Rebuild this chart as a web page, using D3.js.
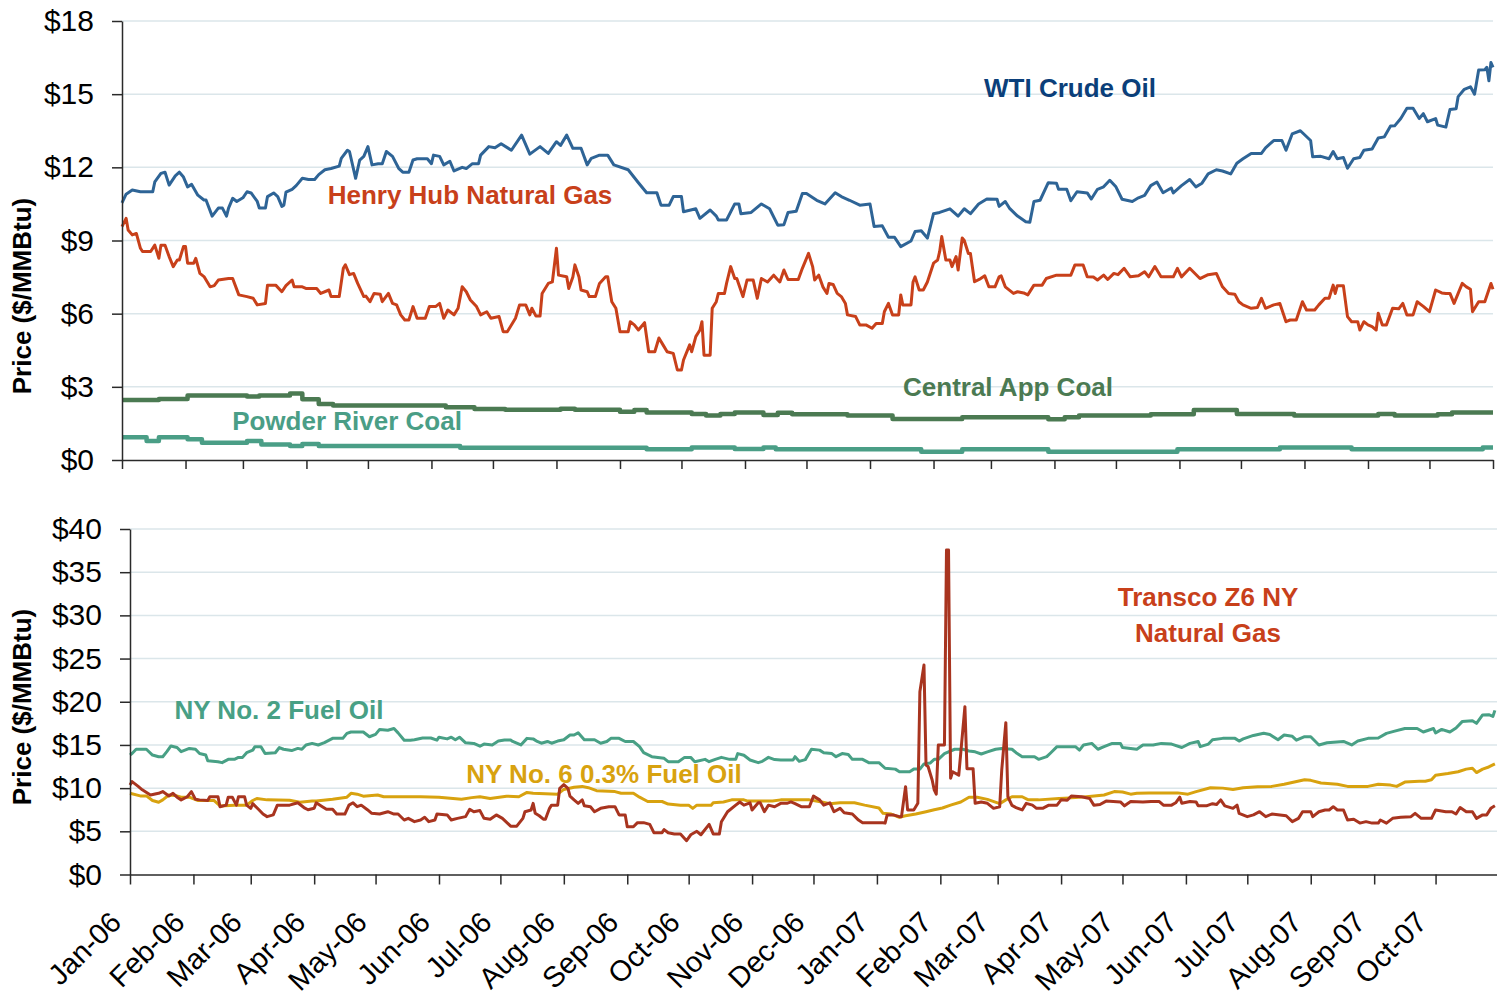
<!DOCTYPE html>
<html>
<head>
<meta charset="utf-8">
<script src="https://d3js.org/d3.v7.min.js"></script>
<style>
body { margin: 0; background: #fff; }
svg { font-family: 'Liberation Sans', Arial, sans-serif; }
.axis path, .axis line { stroke: #2a2a2a; stroke-width: 1.5; }
.axis text { font-size: 30px; fill: #000; }
.grid line { stroke: #dbe6ea; stroke-width: 1.5; }
.xlabel { font-size: 29px; fill: #000; }
.series { fill: none; stroke-linejoin: round; }
.label { font-weight: bold; font-size: 26px; }
.ytitle { font-weight: bold; font-size: 26px; fill: #000; }
</style>
</head>
<body>
<svg width="1497" height="1000"></svg>
<script>
var svg = d3.select('svg');
var parseDate = d3.timeParse('%Y-%m-%d');

// month labels on the bottom axis
var monthLabels = ['Jan-06','Feb-06','Mar-06','Apr-06','May-06','Jun-06','Jul-06','Aug-06','Sep-06','Oct-06','Nov-06','Dec-06',
  'Jan-07','Feb-07','Mar-07','Apr-07','May-07','Jun-07','Jul-07','Aug-07','Sep-07','Oct-07'];
var topTicks = [0, 3, 6, 9, 12, 15, 18];
var bottomTicks = [0, 5, 10, 15, 20, 25, 30, 35, 40];

// ---- top panel series ($/MMBtu)
var wti = [['2006-01-01',10.54],['2006-01-03',10.9],['2006-01-06',11.07],['2006-01-10',11.0],['2006-01-16',11.0],['2006-01-17',11.4],
['2006-01-20',11.75],['2006-01-22',11.8],['2006-01-24',11.27],['2006-01-27',11.65],['2006-01-29',11.8],['2006-01-31',11.6],
['2006-02-02',11.2],['2006-02-04',11.3],['2006-02-07',10.86],['2006-02-10',10.66],['2006-02-11',10.66],['2006-02-14',10.0],
['2006-02-17',10.33],['2006-02-19',10.33],['2006-02-21',10.0],['2006-02-22',10.33],['2006-02-24',10.73],['2006-02-26',10.6],
['2006-03-01',10.75],['2006-03-03',11.0],['2006-03-05',10.95],['2006-03-08',10.6],['2006-03-09',10.33],['2006-03-12',10.33],
['2006-03-13',10.8],['2006-03-16',10.95],['2006-03-18',10.8],['2006-03-20',10.4],['2006-03-21',10.45],['2006-03-22',10.98],
['2006-03-25',11.1],['2006-03-27',11.25],['2006-03-30',11.55],['2006-04-02',11.5],['2006-04-05',11.5],['2006-04-07',11.7],
['2006-04-10',11.9],['2006-04-13',11.95],['2006-04-17',12.05],['2006-04-18',12.37],['2006-04-21',12.7],['2006-04-22',12.65],
['2006-04-25',11.55],['2006-04-27',12.3],['2006-04-29',12.45],['2006-05-01',12.85],['2006-05-03',12.1],['2006-05-06',12.15],
['2006-05-08',12.15],['2006-05-10',12.65],['2006-05-13',12.45],['2006-05-16',11.96],['2006-05-18',11.8],['2006-05-21',11.8],
['2006-05-23',12.3],['2006-05-25',12.35],['2006-05-30',12.35],['2006-06-01',12.15],['2006-06-02',12.5],['2006-06-05',12.45],
['2006-06-07',12.1],['2006-06-10',12.25],['2006-06-12',11.85],['2006-06-16',12.0],['2006-06-18',11.95],['2006-06-21',12.15],
['2006-06-24',12.15],['2006-06-25',12.5],['2006-06-29',12.85],['2006-07-02',12.8],['2006-07-05',12.97],['2006-07-10',12.7],
['2006-07-15',13.32],['2006-07-19',12.54],['2006-07-24',12.85],['2006-07-28',12.57],['2006-08-01',13.05],['2006-08-03',12.9],
['2006-08-06',13.32],['2006-08-09',12.78],['2006-08-13',12.78],['2006-08-16',12.1],['2006-08-18',12.37],['2006-08-22',12.5],
['2006-08-26',12.5],['2006-08-29',12.1],['2006-09-05',11.9],['2006-09-10',11.37],['2006-09-14',10.96],['2006-09-19',10.96],
['2006-09-21',10.45],['2006-09-25',10.45],['2006-09-27',10.8],['2006-10-01',10.8],['2006-10-02',10.18],['2006-10-08',10.3],
['2006-10-10',9.91],['2006-10-15',10.25],['2006-10-18',10.0],['2006-10-19',9.84],['2006-10-23',9.84],['2006-10-27',10.5],
['2006-10-29',10.5],['2006-10-30',10.1],['2006-11-04',10.15],['2006-11-09',10.5],['2006-11-13',10.3],['2006-11-17',9.63],
['2006-11-20',9.65],['2006-11-22',10.15],['2006-11-26',10.2],['2006-11-29',10.93],['2006-12-01',10.93],['2006-12-06',10.65],
['2006-12-10',10.5],['2006-12-15',10.96],['2006-12-18',10.8],['2006-12-22',10.65],['2006-12-27',10.45],['2007-01-01',10.5],
['2007-01-03',9.57],['2007-01-07',9.6],['2007-01-10',9.13],['2007-01-13',9.13],['2007-01-16',8.75],['2007-01-21',8.98],
['2007-01-23',9.37],['2007-01-26',9.4],['2007-01-29',9.1],['2007-02-01',10.1],['2007-02-04',10.15],['2007-02-09',10.3],
['2007-02-13',10.0],['2007-02-16',10.3],['2007-02-19',10.1],['2007-02-23',10.5],['2007-02-27',10.7],['2007-03-04',10.69],
['2007-03-05',10.4],['2007-03-08',10.6],['2007-03-10',10.33],['2007-03-14',10.0],['2007-03-18',9.77],['2007-03-20',9.75],
['2007-03-22',10.6],['2007-03-25',10.65],['2007-03-29',11.37],['2007-04-02',11.35],['2007-04-03',11.1],['2007-04-07',11.1],
['2007-04-09',10.63],['2007-04-12',11.0],['2007-04-17',10.95],['2007-04-19',10.7],['2007-04-22',11.1],['2007-04-25',11.2],
['2007-04-28',11.47],['2007-05-01',11.2],['2007-05-04',10.69],['2007-05-09',10.6],['2007-05-12',10.75],['2007-05-15',10.85],
['2007-05-18',11.25],['2007-05-21',11.4],['2007-05-24',10.96],['2007-05-28',11.15],['2007-05-29',10.95],['2007-06-02',11.25],
['2007-06-06',11.5],['2007-06-09',11.2],['2007-06-12',11.35],['2007-06-15',11.73],['2007-06-19',11.9],['2007-06-22',11.85],
['2007-06-26',11.73],['2007-06-29',12.17],['2007-07-02',12.35],['2007-07-06',12.57],['2007-07-11',12.57],['2007-07-13',12.8],
['2007-07-17',13.1],['2007-07-21',13.1],['2007-07-23',12.7],['2007-07-26',13.37],['2007-07-30',13.5],['2007-08-04',13.1],
['2007-08-05',12.43],['2007-08-09',12.45],['2007-08-13',12.35],['2007-08-15',12.65],['2007-08-17',12.35],['2007-08-20',12.4],
['2007-08-22',11.96],['2007-08-25',12.35],['2007-08-28',12.4],['2007-08-30',12.7],['2007-09-03',12.75],['2007-09-06',13.2],
['2007-09-09',13.25],['2007-09-12',13.69],['2007-09-14',13.7],['2007-09-17',14.0],['2007-09-20',14.42],['2007-09-23',14.42],
['2007-09-26',14.0],['2007-09-28',14.2],['2007-09-30',13.87],['2007-10-04',14.0],['2007-10-05',13.73],['2007-10-09',13.65],
['2007-10-11',14.37],['2007-10-14',14.4],['2007-10-15',14.9],['2007-10-18',15.2],['2007-10-21',15.3],['2007-10-23',15.0],
['2007-10-25',15.99],['2007-10-28',16.0],['2007-10-29',16.1],['2007-10-30',15.55],['2007-10-31',16.3],['2007-11-01',16.1]];

var henryHub = [['2006-01-01',9.57],['2006-01-03',9.91],['2006-01-04',9.43],['2006-01-06',9.23],['2006-01-08',9.29],['2006-01-10',8.68],
['2006-01-11',8.55],['2006-01-15',8.55],['2006-01-17',8.81],['2006-01-19',8.27],['2006-01-20',8.81],['2006-01-22',8.81],
['2006-01-24',8.34],['2006-01-26',7.93],['2006-01-28',8.2],['2006-01-29',8.2],['2006-01-31',8.75],['2006-02-01',8.75],
['2006-02-02',8.07],['2006-02-05',8.07],['2006-02-06',8.27],['2006-02-08',7.65],['2006-02-10',7.52],['2006-02-13',7.1],
['2006-02-15',7.15],['2006-02-17',7.38],['2006-02-22',7.44],['2006-02-24',7.44],['2006-02-27',6.77],['2006-03-03',6.7],
['2006-03-06',6.63],['2006-03-08',6.36],['2006-03-12',6.42],['2006-03-13',7.17],['2006-03-17',7.17],['2006-03-20',6.9],
['2006-03-22',7.15],['2006-03-25',7.38],['2006-03-26',7.1],['2006-03-30',7.1],['2006-04-01',7.03],['2006-04-06',7.03],
['2006-04-08',6.83],['2006-04-12',6.97],['2006-04-13',6.7],['2006-04-17',6.7],['2006-04-19',7.86],['2006-04-20',8.0],
['2006-04-22',7.6],['2006-04-24',7.65],['2006-04-26',7.24],['2006-04-29',6.7],['2006-04-30',6.72],['2006-05-02',6.49],
['2006-05-04',6.83],['2006-05-07',6.8],['2006-05-08',6.49],['2006-05-11',6.83],['2006-05-13',6.42],['2006-05-15',6.36],
['2006-05-17',5.95],['2006-05-19',5.74],['2006-05-21',5.74],['2006-05-23',6.29],['2006-05-25',5.81],['2006-05-29',5.81],
['2006-05-31',6.29],['2006-06-03',6.29],['2006-06-05',6.42],['2006-06-07',5.81],['2006-06-09',6.15],['2006-06-12',5.95],
['2006-06-14',6.22],['2006-06-16',7.1],['2006-06-18',6.9],['2006-06-20',6.56],['2006-06-23',6.29],['2006-06-25',5.95],
['2006-06-28',6.08],['2006-06-30',5.81],['2006-07-04',5.88],['2006-07-06',5.26],['2006-07-08',5.26],['2006-07-12',5.81],
['2006-07-14',6.36],['2006-07-17',6.36],['2006-07-19',5.95],['2006-07-20',6.22],['2006-07-22',5.9],['2006-07-24',5.9],
['2006-07-25',6.83],['2006-07-28',7.24],['2006-07-30',7.3],['2006-08-01',8.68],['2006-08-02',7.58],['2006-08-06',7.51],
['2006-08-07',7.03],['2006-08-09',7.5],['2006-08-10',8.0],['2006-08-12',7.5],['2006-08-13',6.97],['2006-08-16',6.9],
['2006-08-17',6.7],['2006-08-20',6.7],['2006-08-22',7.24],['2006-08-25',7.51],['2006-08-26',7.51],['2006-08-28',6.49],
['2006-08-30',6.22],['2006-09-01',5.26],['2006-09-05',5.26],['2006-09-06',5.67],['2006-09-08',5.54],['2006-09-10',5.33],
['2006-09-13',5.63],['2006-09-15',4.44],['2006-09-18',4.44],['2006-09-20',5.0],['2006-09-22',4.72],['2006-09-24',4.44],
['2006-09-27',4.37],['2006-09-29',3.69],['2006-10-01',3.69],['2006-10-02',4.1],['2006-10-05',4.72],['2006-10-06',4.44],
['2006-10-08',5.06],['2006-10-10',5.33],['2006-10-11',5.67],['2006-10-12',4.3],['2006-10-15',4.3],['2006-10-16',6.22],
['2006-10-18',6.49],['2006-10-19',6.83],['2006-10-22',6.83],['2006-10-23',7.24],['2006-10-25',7.93],['2006-10-27',7.44],
['2006-10-28',7.44],['2006-10-31',6.7],['2006-11-02',7.38],['2006-11-05',7.38],['2006-11-07',6.63],['2006-11-09',7.44],
['2006-11-12',7.3],['2006-11-15',7.58],['2006-11-18',7.3],['2006-11-20',7.79],['2006-11-22',7.4],['2006-11-27',7.4],
['2006-11-29',7.86],['2006-12-02',8.47],['2006-12-04',7.93],['2006-12-05',7.38],['2006-12-07',7.58],['2006-12-09',7.1],
['2006-12-11',6.83],['2006-12-12',7.24],['2006-12-14',7.2],['2006-12-16',6.83],['2006-12-18',6.7],['2006-12-20',6.42],
['2006-12-21',5.95],['2006-12-25',5.88],['2006-12-27',5.54],['2006-12-30',5.54],['2007-01-02',5.4],['2007-01-04',5.6],
['2007-01-07',5.6],['2007-01-08',6.08],['2007-01-10',6.42],['2007-01-12',5.95],['2007-01-15',5.95],['2007-01-16',6.77],
['2007-01-17',6.36],['2007-01-21',6.36],['2007-01-22',7.3],['2007-01-23',7.51],['2007-01-25',6.97],['2007-01-27',6.97],
['2007-01-29',7.3],['2007-02-01',8.07],['2007-02-03',8.2],['2007-02-04',8.55],['2007-02-05',9.16],['2007-02-07',8.2],
['2007-02-09',8.2],['2007-02-10',7.93],['2007-02-12',8.34],['2007-02-13',7.79],['2007-02-15',9.1],['2007-02-16',9.0],
['2007-02-18',8.47],['2007-02-19',8.47],['2007-02-21',7.31],['2007-02-24',7.44],['2007-02-26',7.55],['2007-02-28',7.1],
['2007-03-03',7.1],['2007-03-05',7.51],['2007-03-06',7.55],['2007-03-08',7.1],['2007-03-12',6.83],['2007-03-14',6.9],
['2007-03-17',6.85],['2007-03-19',6.77],['2007-03-22',7.17],['2007-03-26',7.17],['2007-03-28',7.44],['2007-04-02',7.58],
['2007-04-05',7.58],['2007-04-09',7.58],['2007-04-11',8.0],['2007-04-15',8.0],['2007-04-17',7.51],['2007-04-20',7.5],
['2007-04-22',7.38],['2007-04-25',7.58],['2007-04-27',7.4],['2007-04-30',7.65],['2007-05-02',7.6],['2007-05-05',7.86],
['2007-05-08',7.51],['2007-05-12',7.55],['2007-05-15',7.72],['2007-05-17',7.51],['2007-05-20',7.93],['2007-05-23',7.51],
['2007-05-29',7.51],['2007-05-31',7.86],['2007-06-02',7.51],['2007-06-06',7.86],['2007-06-11',7.44],['2007-06-15',7.6],
['2007-06-19',7.65],['2007-06-22',7.1],['2007-06-25',6.83],['2007-06-28',6.8],['2007-06-30',6.49],['2007-07-02',6.36],
['2007-07-06',6.22],['2007-07-09',6.25],['2007-07-11',6.63],['2007-07-13',6.22],['2007-07-17',6.36],['2007-07-20',6.42],
['2007-07-23',5.67],['2007-07-25',5.74],['2007-07-28',5.74],['2007-07-31',6.49],['2007-08-02',6.15],['2007-08-06',6.15],
['2007-08-08',6.36],['2007-08-11',6.63],['2007-08-13',6.63],['2007-08-15',7.17],['2007-08-16',6.83],['2007-08-17',7.14],
['2007-08-20',7.14],['2007-08-22',5.88],['2007-08-24',5.67],['2007-08-27',5.67],['2007-08-28',5.33],['2007-08-30',5.67],
['2007-09-01',5.54],['2007-09-03',5.47],['2007-09-05',5.33],['2007-09-06',6.02],['2007-09-08',5.54],['2007-09-10',5.54],
['2007-09-13',6.22],['2007-09-16',6.2],['2007-09-18',6.42],['2007-09-20',5.95],['2007-09-23',5.95],['2007-09-25',6.49],
['2007-09-28',6.3],['2007-10-01',6.08],['2007-10-04',6.97],['2007-10-07',6.85],['2007-10-09',6.83],['2007-10-11',6.83],
['2007-10-13',6.42],['2007-10-17',7.24],['2007-10-19',7.1],['2007-10-21',7.0],['2007-10-22',6.08],['2007-10-25',6.49],
['2007-10-28',6.49],['2007-10-31',7.24],['2007-11-01',7.0]];

// coal prices move in weekly steps
var centralApp = [['2006-01-01',2.46],['2006-01-19',2.5],['2006-02-02',2.64],['2006-03-03',2.6],['2006-03-09',2.64],['2006-03-24',2.73],
['2006-03-30',2.49],['2006-04-07',2.3],['2006-04-14',2.23],['2006-06-08',2.16],['2006-06-22',2.09],['2006-07-07',2.06],
['2006-08-03',2.1],['2006-08-10',2.06],['2006-09-01',1.98],['2006-09-08',2.05],['2006-09-14',1.95],['2006-10-06',1.89],
['2006-10-13',1.82],['2006-10-20',1.89],['2006-10-27',1.95],['2006-11-10',1.85],['2006-11-17',1.94],['2006-11-24',1.88],
['2006-12-21',1.82],['2007-01-12',1.68],['2007-02-15',1.75],['2007-03-29',1.67],['2007-04-06',1.75],['2007-04-13',1.82],
['2007-05-18',1.88],['2007-06-08',2.05],['2007-06-29',1.89],['2007-07-27',1.82],['2007-09-06',1.89],['2007-09-14',1.82],
['2007-10-05',1.88],['2007-10-12',1.95],['2007-11-01',1.95]];

var powderRiver = [['2006-01-01',0.93],['2006-01-13',0.78],['2006-01-19',0.93],['2006-02-02',0.85],['2006-02-09',0.71],['2006-03-03',0.78],
['2006-03-10',0.64],['2006-03-24',0.57],['2006-03-30',0.66],['2006-04-07',0.57],['2006-06-15',0.5],['2006-09-14',0.44],
['2006-10-06',0.51],['2006-10-27',0.45],['2006-11-10',0.51],['2006-11-16',0.44],['2007-01-26',0.34],['2007-02-15',0.44],
['2007-03-29',0.34],['2007-05-31',0.44],['2007-07-20',0.51],['2007-08-24',0.44],['2007-10-27',0.51],['2007-11-01',0.51]];

// ---- bottom panel series ($/MMBtu)
var nyNo2 = [['2006-01-01',13.83],['2006-01-02',14.0],['2006-01-04',14.5],['2006-01-09',14.5],['2006-01-12',13.83],['2006-01-15',13.64],
['2006-01-17',13.64],['2006-01-19',14.22],['2006-01-21',14.88],['2006-01-24',14.7],['2006-01-26',14.22],['2006-01-30',14.6],
['2006-02-02',14.5],['2006-02-04',14.0],['2006-02-07',13.83],['2006-02-08',13.18],['2006-02-13',13.06],['2006-02-15',12.95],
['2006-02-18',13.33],['2006-02-21',13.33],['2006-02-23',13.56],['2006-02-25',13.56],['2006-02-27',14.1],['2006-03-02',14.4],
['2006-03-03',14.8],['2006-03-06',14.8],['2006-03-08',14.0],['2006-03-13',14.1],['2006-03-15',14.7],['2006-03-17',14.5],
['2006-03-21',14.35],['2006-03-24',14.6],['2006-03-26',14.5],['2006-03-28',14.99],['2006-03-31',15.18],['2006-04-03',14.99],
['2006-04-06',15.26],['2006-04-10',15.76],['2006-04-15',15.76],['2006-04-17',16.34],['2006-04-19',16.5],['2006-04-25',16.5],
['2006-04-28',15.95],['2006-05-01',16.22],['2006-05-03',16.8],['2006-05-07',16.7],['2006-05-10',16.9],['2006-05-12',16.4],
['2006-05-15',15.55],['2006-05-18',15.55],['2006-05-20',15.6],['2006-05-24',15.8],['2006-05-28',15.8],['2006-05-31',15.55],
['2006-06-01',15.9],['2006-06-05',15.7],['2006-06-07',15.9],['2006-06-09',15.6],['2006-06-11',15.9],['2006-06-14',15.25],
['2006-06-18',15.18],['2006-06-21',14.85],['2006-06-23',15.1],['2006-06-27',15.0],['2006-06-30',15.45],['2006-07-03',15.56],
['2006-07-06',15.56],['2006-07-07',15.4],['2006-07-11',15.0],['2006-07-14',15.76],['2006-07-17',15.7],['2006-07-19',15.4],
['2006-07-21',15.2],['2006-07-24',15.4],['2006-07-26',15.2],['2006-07-29',15.45],['2006-08-01',15.6],['2006-08-04',16.15],
['2006-08-06',16.15],['2006-08-08',16.4],['2006-08-11',15.6],['2006-08-16',15.6],['2006-08-19',15.2],['2006-08-22',15.4],
['2006-08-24',15.76],['2006-08-28',15.76],['2006-08-31',15.4],['2006-09-04',15.4],['2006-09-07',14.8],['2006-09-09',14.1],
['2006-09-13',13.64],['2006-09-19',13.45],['2006-09-21',13.06],['2006-09-26',13.06],['2006-09-29',13.56],['2006-10-02',13.56],
['2006-10-04',13.06],['2006-10-09',13.33],['2006-10-11',13.06],['2006-10-14',13.33],['2006-10-17',13.56],['2006-10-21',13.33],
['2006-10-24',13.33],['2006-10-25',14.0],['2006-10-28',13.8],['2006-10-31',13.25],['2006-11-04',12.95],['2006-11-06',13.1],
['2006-11-09',13.56],['2006-11-12',13.3],['2006-11-15',13.25],['2006-11-21',13.25],['2006-11-22',13.64],['2006-11-24',13.1],
['2006-11-27',13.3],['2006-11-30',14.5],['2006-12-04',14.4],['2006-12-06',14.1],['2006-12-10',14.0],['2006-12-12',13.64],
['2006-12-15',14.0],['2006-12-18',13.9],['2006-12-20',13.33],['2006-12-25',13.33],['2006-12-28',12.95],['2007-01-02',12.95],
['2007-01-05',12.3],['2007-01-10',12.2],['2007-01-12',11.9],['2007-01-17',11.9],['2007-01-19',12.2],['2007-01-22',12.2],
['2007-01-24',12.8],['2007-01-27',12.9],['2007-01-29',13.33],['2007-01-31',13.33],['2007-02-03',14.0],['2007-02-08',14.5],
['2007-02-12',14.5],['2007-02-15',14.3],['2007-02-18',14.2],['2007-02-21',13.95],['2007-02-24',14.2],['2007-02-28',14.5],
['2007-03-03',14.6],['2007-03-08',14.5],['2007-03-10',14.1],['2007-03-13',13.64],['2007-03-19',13.64],['2007-03-21',13.33],
['2007-03-25',13.64],['2007-03-27',14.1],['2007-03-30',14.8],['2007-04-08',14.8],['2007-04-10',14.4],['2007-04-12',15.0],
['2007-04-16',15.18],['2007-04-19',14.5],['2007-04-22',14.8],['2007-04-26',15.18],['2007-04-30',15.18],['2007-05-01',14.7],
['2007-05-05',14.6],['2007-05-08',14.5],['2007-05-11',15.0],['2007-05-16',15.0],['2007-05-20',15.18],['2007-05-25',15.1],
['2007-05-30',14.7],['2007-06-03',15.18],['2007-06-07',15.4],['2007-06-08',14.8],['2007-06-12',15.1],['2007-06-14',15.6],
['2007-06-19',15.76],['2007-06-25',15.76],['2007-06-27',15.45],['2007-06-29',15.7],['2007-07-04',16.1],['2007-07-09',16.35],
['2007-07-12',16.2],['2007-07-16',15.6],['2007-07-19',16.15],['2007-07-23',16.0],['2007-07-25',15.55],['2007-07-29',15.95],
['2007-08-01',15.95],['2007-08-05',15.0],['2007-08-09',15.25],['2007-08-17',15.4],['2007-08-21',15.0],['2007-08-24',15.45],
['2007-08-29',15.76],['2007-09-03',15.8],['2007-09-07',16.34],['2007-09-11',16.6],['2007-09-16',16.9],['2007-09-22',16.9],
['2007-09-25',16.5],['2007-09-30',16.9],['2007-10-01',16.4],['2007-10-04',16.8],['2007-10-08',16.5],['2007-10-11',16.97],
['2007-10-14',17.7],['2007-10-19',17.8],['2007-10-21',17.5],['2007-10-24',18.47],['2007-10-27',18.5],['2007-10-29',18.3],
['2007-10-30',19.0]];

var nyNo6 = [['2006-01-01',9.4],['2006-01-06',9.1],['2006-01-09',9.1],['2006-01-12',8.57],['2006-01-15',8.37],['2006-01-17',8.64],
['2006-01-20',9.2],['2006-01-23',9.15],['2006-01-26',8.95],['2006-01-30',8.95],['2006-02-03',8.57],['2006-02-11',8.57],
['2006-02-14',7.93],['2006-02-21',8.03],['2006-02-27',8.03],['2006-03-02',8.57],['2006-03-04',8.8],['2006-03-09',8.64],
['2006-03-20',8.6],['2006-03-25',8.37],['2006-03-31',8.5],['2006-04-02',8.5],['2006-04-10',8.7],['2006-04-17',8.95],
['2006-04-19',9.4],['2006-04-22',9.3],['2006-04-25',9.07],['2006-05-02',9.2],['2006-05-05',9.0],['2006-05-13',9.0],
['2006-05-23',9.0],['2006-06-01',8.95],['2006-06-12',8.7],['2006-06-17',8.9],['2006-06-21',9.0],['2006-06-26',8.8],
['2006-07-04',9.07],['2006-07-10',9.0],['2006-07-14',9.5],['2006-07-17',9.4],['2006-07-29',9.3],['2006-08-01',9.85],
['2006-08-06',10.1],['2006-08-10',10.2],['2006-08-13',10.05],['2006-08-17',9.7],['2006-08-26',9.6],['2006-08-29',9.4],
['2006-09-04',9.4],['2006-09-07',8.95],['2006-09-11',8.45],['2006-09-18',8.45],['2006-09-21',8.16],['2006-09-27',8.03],
['2006-10-01',8.03],['2006-10-03',7.66],['2006-10-05',8.03],['2006-10-12',8.03],['2006-10-13',8.3],['2006-10-18',8.4],
['2006-10-22',8.64],['2006-10-28',8.64],['2006-10-30',8.5],['2006-11-11',8.5],['2006-11-15',8.64],['2006-11-29',8.64],
['2006-12-05',8.4],['2006-12-09',8.2],['2006-12-14',8.3],['2006-12-21',8.3],['2006-12-26',8.03],['2007-01-02',7.7],
['2007-01-04',7.08],['2007-01-08',7.0],['2007-01-12',6.62],['2007-01-15',6.8],['2007-01-20',7.0],['2007-01-25',7.27],
['2007-01-29',7.5],['2007-02-02',7.7],['2007-02-06',8.03],['2007-02-11',8.4],['2007-02-15',8.95],['2007-02-19',8.95],
['2007-02-24',8.7],['2007-03-02',8.2],['2007-03-05',8.64],['2007-03-08',9.0],['2007-03-13',9.0],['2007-03-16',8.64],
['2007-03-21',8.64],['2007-03-31',8.8],['2007-04-08',8.9],['2007-04-16',9.07],['2007-04-22',9.2],['2007-04-27',9.6],
['2007-05-01',9.55],['2007-05-05',9.3],['2007-05-08',9.4],['2007-05-14',9.45],['2007-05-28',9.45],['2007-06-02',9.3],
['2007-06-06',9.6],['2007-06-13',10.05],['2007-06-19',10.0],['2007-06-24',9.85],['2007-06-29',10.05],['2007-07-06',10.16],
['2007-07-13',10.2],['2007-07-19',10.45],['2007-07-24',10.7],['2007-07-29',10.97],['2007-08-01',10.9],['2007-08-06',10.6],
['2007-08-14',10.45],['2007-08-19',10.2],['2007-08-29',10.2],['2007-09-03',10.45],['2007-09-09',10.35],['2007-09-12',10.2],
['2007-09-16',10.7],['2007-09-23',10.8],['2007-09-26',10.8],['2007-09-29',10.97],['2007-10-01',11.5],['2007-10-07',11.7],
['2007-10-12',11.9],['2007-10-16',12.2],['2007-10-19',12.3],['2007-10-21',11.8],['2007-10-24',12.2],['2007-10-27',12.45],
['2007-10-30',12.8]];

var transco = [['2006-01-01',10.36],['2006-01-02',10.75],['2006-01-05',10.2],['2006-01-07',9.8],['2006-01-11',9.2],['2006-01-15',9.4],
['2006-01-17',9.6],['2006-01-20',9.1],['2006-01-22',9.4],['2006-01-24',8.95],['2006-01-26',8.64],['2006-01-29',9.0],
['2006-01-31',9.6],['2006-02-02',8.7],['2006-02-04',8.64],['2006-02-08',8.57],['2006-02-09',9.0],['2006-02-13',9.0],
['2006-02-14',7.85],['2006-02-17',8.03],['2006-02-18',8.95],['2006-02-20',8.95],['2006-02-22',8.03],['2006-02-23',9.0],
['2006-02-26',9.0],['2006-02-27',8.03],['2006-03-01',7.66],['2006-03-02',8.2],['2006-03-05',7.5],['2006-03-07',7.0],
['2006-03-09',6.7],['2006-03-12',6.9],['2006-03-14',8.03],['2006-03-20',8.03],['2006-03-24',8.3],['2006-03-27',7.75],
['2006-03-29',7.5],['2006-04-01',7.66],['2006-04-02',8.3],['2006-04-05',7.85],['2006-04-07',7.55],['2006-04-10',7.55],
['2006-04-12',7.0],['2006-04-16',7.0],['2006-04-18',8.03],['2006-04-20',8.3],['2006-04-22',7.85],['2006-04-24',8.03],
['2006-04-27',7.5],['2006-04-29',7.1],['2006-05-03',7.0],['2006-05-07',7.27],['2006-05-10',7.0],['2006-05-12',7.0],
['2006-05-15',6.31],['2006-05-17',6.5],['2006-05-20',6.12],['2006-05-23',6.31],['2006-05-25',6.62],['2006-05-27',6.12],
['2006-05-30',6.31],['2006-05-31',7.0],['2006-06-05',6.9],['2006-06-07',6.31],['2006-06-10',6.5],['2006-06-14',6.7],
['2006-06-16',7.55],['2006-06-18',7.27],['2006-06-21',7.4],['2006-06-23',6.5],['2006-06-26',6.4],['2006-06-29',6.9],
['2006-07-02',6.5],['2006-07-06',5.6],['2006-07-09',5.6],['2006-07-12',6.5],['2006-07-13',7.27],['2006-07-16',7.47],
['2006-07-17',8.24],['2006-07-18',7.1],['2006-07-20',6.8],['2006-07-22',6.4],['2006-07-23',6.4],['2006-07-25',7.66],
['2006-07-26',8.03],['2006-07-29',8.03],['2006-07-30',9.98],['2006-08-01',10.4],['2006-08-03',9.98],['2006-08-04',9.07],
['2006-08-06',8.64],['2006-08-08',8.24],['2006-08-10',8.64],['2006-08-11',7.95],['2006-08-14',7.85],['2006-08-16',7.27],
['2006-08-19',7.66],['2006-08-23',7.85],['2006-08-26',7.85],['2006-08-28',6.9],['2006-08-31',6.9],['2006-09-01',5.53],
['2006-09-04',5.53],['2006-09-06',6.0],['2006-09-09',6.0],['2006-09-12',5.8],['2006-09-14',4.84],['2006-09-18',4.84],
['2006-09-19',5.2],['2006-09-21',4.84],['2006-09-24',4.7],['2006-09-27',4.7],['2006-09-30',3.92],['2006-10-02',4.6],
['2006-10-05',5.0],['2006-10-07',4.6],['2006-10-11',5.8],['2006-10-13',4.7],['2006-10-16',4.7],['2006-10-17',6.1],
['2006-10-20',7.27],['2006-10-24',8.03],['2006-10-26',8.4],['2006-10-28',8.03],['2006-10-31',8.3],['2006-11-01',7.47],
['2006-11-04',8.3],['2006-11-05',8.3],['2006-11-07',7.27],['2006-11-09',8.03],['2006-11-12',7.85],['2006-11-15',8.24],
['2006-11-18',8.24],['2006-11-20',8.4],['2006-11-22',8.2],['2006-11-25',7.85],['2006-11-29',7.85],['2006-12-01',9.07],
['2006-12-04',8.64],['2006-12-06',8.03],['2006-12-09',8.3],['2006-12-11',7.27],['2006-12-14',7.66],['2006-12-16',7.15],
['2006-12-20',7.0],['2006-12-23',6.3],['2006-12-25',6.0],['2006-12-29',6.0],['2007-01-04',6.0],['2007-01-05',5.95],
['2007-01-06',6.9],['2007-01-09',6.9],['2007-01-12',6.7],['2007-01-13',6.7],['2007-01-15',10.16],['2007-01-16',7.47],
['2007-01-19',7.47],['2007-01-21',8.24],['2007-01-22',21.17],['2007-01-24',24.25],['2007-01-25',12.68],['2007-01-26',12.5],
['2007-01-28',10.94],['2007-01-29',9.8],['2007-01-30',9.3],['2007-01-31',15.0],['2007-02-03',15.0],['2007-02-04',37.57],
['2007-02-05',37.57],['2007-02-06',11.14],['2007-02-07',11.9],['2007-02-10',11.5],['2007-02-13',19.43],['2007-02-14',12.25],
['2007-02-17',12.25],['2007-02-18',8.24],['2007-02-21',8.4],['2007-02-24',8.24],['2007-02-27',7.66],['2007-03-02',7.85],
['2007-03-03',12.1],['2007-03-05',17.58],['2007-03-06',9.0],['2007-03-08',8.0],['2007-03-10',7.75],['2007-03-13',7.47],
['2007-03-15',8.24],['2007-03-18',8.03],['2007-03-20',7.66],['2007-03-23',7.66],['2007-03-26',8.03],['2007-03-30',8.03],
['2007-04-01',8.64],['2007-04-04',8.6],['2007-04-06',9.09],['2007-04-11',9.0],['2007-04-15',8.8],['2007-04-17',8.03],
['2007-04-20',8.1],['2007-04-23',8.5],['2007-04-30',8.4],['2007-05-02',7.95],['2007-05-05',8.45],['2007-05-11',8.4],
['2007-05-15',8.45],['2007-05-19',8.45],['2007-05-21',8.03],['2007-05-25',8.03],['2007-05-27',8.3],['2007-05-29',8.95],
['2007-05-30',8.24],['2007-06-03',8.45],['2007-06-06',8.4],['2007-06-07',7.95],['2007-06-11',7.95],['2007-06-14',8.2],
['2007-06-16',8.1],['2007-06-18',8.64],['2007-06-20',7.95],['2007-06-24',7.66],['2007-06-26',8.03],['2007-06-27',7.08],
['2007-07-01',6.7],['2007-07-04',6.9],['2007-07-07',7.27],['2007-07-10',6.7],['2007-07-13',7.0],['2007-07-17',6.9],
['2007-07-20',6.8],['2007-07-23',6.12],['2007-07-26',6.5],['2007-07-28',7.27],['2007-08-01',7.27],['2007-08-02',6.7],
['2007-08-05',7.27],['2007-08-08',7.47],['2007-08-10',7.47],['2007-08-12',7.85],['2007-08-14',7.47],['2007-08-17',7.47],
['2007-08-19',6.31],['2007-08-22',6.4],['2007-08-25',5.95],['2007-08-28',6.12],['2007-08-31',5.95],['2007-09-03',5.95],
['2007-09-04',6.31],['2007-09-07',5.95],['2007-09-10',6.5],['2007-09-14',6.62],['2007-09-19',6.7],['2007-09-21',7.08],
['2007-09-24',6.5],['2007-09-29',6.5],['2007-10-01',7.47],['2007-10-06',7.27],['2007-10-09',7.27],['2007-10-11',7.0],
['2007-10-13',7.75],['2007-10-16',7.27],['2007-10-19',7.27],['2007-10-21',6.5],['2007-10-24',6.9],['2007-10-26',6.9],
['2007-10-28',7.66],['2007-10-30',7.95]];

// ---- layout
var startDate = new Date(2006, 0, 1), endDate = new Date(2007, 10, 1);
var monthTicks = d3.timeMonth.range(startDate, new Date(2007, 10, 2));   // Jan-06 .. Nov-07

var topPanel = {l: 122, r: 1493, t: 21, b: 460};
var botPanel = {l: 130, r: 1499, t: 529, b: 874.5};

var xTop = d3.scaleTime().domain([startDate, endDate]).range([topPanel.l, topPanel.r]);
var yTop = d3.scaleLinear().domain([0, 18]).range([topPanel.b, topPanel.t]);
var xBot = d3.scaleTime().domain([startDate, endDate]).range([botPanel.l, botPanel.r]);
var yBot = d3.scaleLinear().domain([0, 40]).range([botPanel.b, botPanel.t]);

function drawGrid(yScale, ticks, x0, x1) {
  svg.append('g').attr('class', 'grid')
    .selectAll('line')
    .data(ticks.filter(function(d){ return d > 0; }))
    .enter().append('line')
    .attr('x1', x0).attr('x2', x1)
    .attr('y1', function(d){ return yScale(d); })
    .attr('y2', function(d){ return yScale(d); });
}
drawGrid(yTop, topTicks, topPanel.l, topPanel.r);
drawGrid(yBot, bottomTicks, botPanel.l, 1497);

// series lines
function drawSeries(data, xScale, yScale, color, width, curve) {
  var line = d3.line()
    .x(function(d){ return xScale(parseDate(d[0])); })
    .y(function(d){ return yScale(d[1]); })
    .curve(curve || d3.curveLinear);
  svg.append('path')
    .datum(data)
    .attr('class', 'series')
    .attr('d', line)
    .attr('stroke', color)
    .attr('stroke-width', width);
}
drawSeries(powderRiver, xTop, yTop, '#4a9e86', 4.5, d3.curveStepAfter);
drawSeries(centralApp, xTop, yTop, '#4b7a52', 4.5, d3.curveStepAfter);
drawSeries(henryHub, xTop, yTop, '#c8401a', 3);
drawSeries(wti, xTop, yTop, '#2e6496', 3);

drawSeries(nyNo2, xBot, yBot, '#48a085', 3);
drawSeries(nyNo6, xBot, yBot, '#d8a20f', 3);
drawSeries(transco, xBot, yBot, '#a8341f', 3);

// axes
var fmt = function(d){ return '$' + d; };
svg.append('g').attr('class', 'axis')
  .attr('transform', 'translate(' + topPanel.l + ',0)')
  .call(d3.axisLeft(yTop).tickValues(topTicks).tickFormat(fmt).tickSize(10).tickSizeOuter(0).tickPadding(18));
svg.append('g').attr('class', 'axis')
  .attr('transform', 'translate(0,' + topPanel.b + ')')
  .call(d3.axisBottom(xTop).tickValues(monthTicks).tickFormat('').tickSize(9).tickSizeOuter(0));

svg.append('g').attr('class', 'axis')
  .attr('transform', 'translate(' + botPanel.l + ',0)')
  .call(d3.axisLeft(yBot).tickValues(bottomTicks).tickFormat(fmt).tickSize(10).tickSizeOuter(0).tickPadding(18));
svg.append('g').attr('class', 'axis')
  .attr('transform', 'translate(0,' + botPanel.b + ')')
  .call(d3.axisBottom(xBot).tickValues(monthTicks.slice(0, 22)).tickFormat('').tickSize(10).tickSizeOuter(0));

// rotated month labels under the bottom panel
svg.append('g').selectAll('text')
  .data(monthLabels)
  .enter().append('text')
  .attr('class', 'xlabel')
  .attr('text-anchor', 'end')
  .attr('transform', function(d, i){ return 'translate(' + (xBot(monthTicks[i]) - 7) + ',924) rotate(-45)'; })
  .text(function(d){ return d; });

// y axis titles
svg.append('text').attr('class', 'ytitle').attr('text-anchor', 'middle')
  .attr('transform', 'translate(31,296) rotate(-90)').text('Price ($/MMBtu)');
svg.append('text').attr('class', 'ytitle').attr('text-anchor', 'middle')
  .attr('transform', 'translate(31,707) rotate(-90)').text('Price ($/MMBtu)');

// series labels
var labels = [
  {t: 'WTI Crude Oil', x: 1070, y: 97, c: '#0b3f7a'},
  {t: 'Henry Hub Natural Gas', x: 470, y: 204, c: '#c8401a'},
  {t: 'Central App Coal', x: 1008, y: 396, c: '#4b7a52'},
  {t: 'Powder River Coal', x: 347, y: 430, c: '#4a9e86'},
  {t: 'Transco Z6 NY', x: 1208, y: 606, c: '#c8401a'},
  {t: 'Natural Gas', x: 1208, y: 642, c: '#c8401a'},
  {t: 'NY No. 2 Fuel Oil', x: 279, y: 719, c: '#48a085'},
  {t: 'NY No. 6 0.3% Fuel Oil', x: 604, y: 783, c: '#d8a20f'}
];
svg.append('g').selectAll('text')
  .data(labels)
  .enter().append('text')
  .attr('class', 'label')
  .attr('text-anchor', 'middle')
  .attr('x', function(d){ return d.x; })
  .attr('y', function(d){ return d.y; })
  .attr('fill', function(d){ return d.c; })
  .text(function(d){ return d.t; });
</script>
</body>
</html>
